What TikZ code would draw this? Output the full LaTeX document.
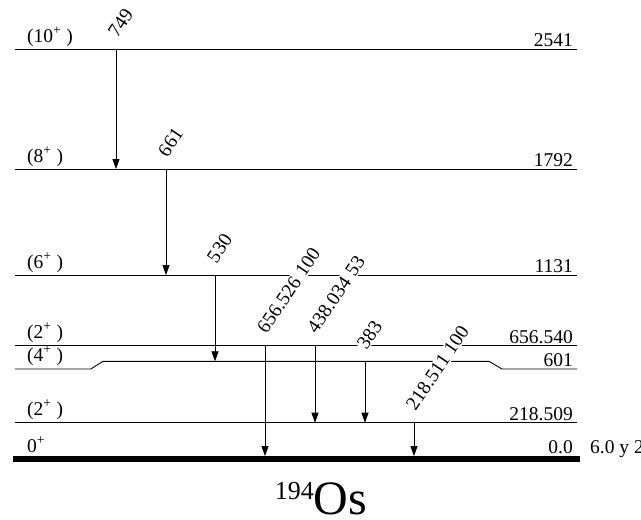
\documentclass[tikz,border=0pt]{standalone}
\usepackage{fontspec}
\setmainfont{Liberation Serif}
\usetikzlibrary{arrows.meta,calc}
\newcommand\lf{\fontsize{19.5}{22}\selectfont}
\begin{document}
\begin{tikzpicture}[x=1pt,y=-1pt,
  lvl/.style={line width=0.9pt},
  gsline/.style={line width=6pt},
  gam/.style={line width=0.8pt,-{Triangle[length=10pt,width=7pt]}},
  spin/.style={anchor=base west,inner sep=0pt,font=\lf},
  en/.style={anchor=base east,inner sep=0pt,font=\lf},
  glab/.style={anchor=base west,rotate=56,fill=white,inner sep=1pt,font=\lf},
]
\useasboundingbox (0,0) rectangle (641,520);
% level coordinates
\coordinate (A10) at (15,49.3);  \coordinate (B10) at (577,49.3);
\coordinate (A8) at (15,169);    \coordinate (B8) at (577,169);
\coordinate (A6) at (15,275);    \coordinate (B6) at (577,275);
\coordinate (A2b) at (15,345.5); \coordinate (B2b) at (577,345.5);
\coordinate (A4) at (15,369);    \coordinate (A4k) at (90.7,369);
\coordinate (A4m) at (103,361.3);\coordinate (B4m) at (489,361.3);
\coordinate (B4k) at (502,369);  \coordinate (B4) at (577,369);
\coordinate (A2a) at (15,422.7); \coordinate (B2a) at (577,422.7);
\coordinate (A0) at (13,459);    \coordinate (B0) at (580,459);
% levels
\draw[lvl] (A10) -- (B10);
\draw[lvl] (A8) -- (B8);
\draw[lvl] (A6) -- (B6);
\draw[lvl] (A2b) -- (B2b);
\draw[lvl] (A4) -- (A4k) -- (A4m) -- (B4m) -- (B4k) -- (B4);
\draw[lvl] (A2a) -- (B2a);
\draw[gsline] (A0) -- (B0);
% spin labels
\node[spin] (s10) at (27,42) {(10\textsuperscript{+} )};
\node[spin] (s8) at (27,162) {(8\textsuperscript{+} )};
\node[spin] (s6) at (27,268) {(6\textsuperscript{+} )};
\node[spin] (s2b) at (27,338.5) {(2\textsuperscript{+} )};
\node[spin] (s4) at (27,361) {(4\textsuperscript{+} )};
\node[spin] (s2a) at (27,415.5) {(2\textsuperscript{+} )};
\node[spin] (s0) at (27,452) {0\textsuperscript{+}};
% energy labels
\node[en] (e10) at (573,46) {2541};
\node[en] (e8) at (573,166) {1792};
\node[en] (e6) at (573,272) {1131};
\node[en] (e2b) at (573,343) {656.540};
\node[en] (e4) at (573,366) {601};
\node[en] (e2a) at (573,420) {218.509};
\node[en] (e0) at (573,453) {0.0};
\node[anchor=base west,inner sep=0pt,font=\lf] (hl) at (590,453) {6.0 y 2};
% transition end points
\coordinate (t1s) at (116,49.3);  \coordinate (t1e) at (116,169);
\coordinate (t2s) at (166,169);   \coordinate (t2e) at (166,275);
\coordinate (t3s) at (215,275);   \coordinate (t3e) at (215,361.3);
\coordinate (t4s) at (265,345.5); \coordinate (t4e) at (265,456);
\coordinate (t5s) at (315,345.5); \coordinate (t5e) at (315,422.7);
\coordinate (t6s) at (365,361.3); \coordinate (t6e) at (365,422.7);
\coordinate (t7s) at (414,422.7); \coordinate (t7e) at (414,456);
% gamma labels
\node[glab] (g1) at ($(t1s)+(1,-10)$) {749};
\node[glab] (g2) at ($(t2s)+(1,-10)$) {661};
\node[glab] (g3) at ($(t3s)+(1,-10)$) {530};
\node[glab] (g4) at ($(t4s)+(1,-10)$) {656.526 100};
\node[glab] (g5) at ($(t5s)+(1,-10)$) {438.034 53};
\node[glab] (g6) at ($(t6s)+(1,-10)$) {383};
\node[glab] (g7) at ($(t7s)+(1,-10)$) {218.511 100};
% transitions
\draw[gam] (t1s) -- (t1e);
\draw[gam] (t2s) -- (t2e);
\draw[gam] (t3s) -- (t3e);
\draw[gam] (t4s) -- (t4e);
\draw[gam] (t5s) -- (t5e);
\draw[gam] (t6s) -- (t6e);
\draw[gam] (t7s) -- (t7e);
% nucleus
\node[anchor=base,inner sep=0pt] (nuc) at (321,514)
  {\raisebox{15pt}{\fontsize{26}{28}\selectfont 194}\fontsize{48}{50}\selectfont Os};
\end{tikzpicture}
\end{document}
